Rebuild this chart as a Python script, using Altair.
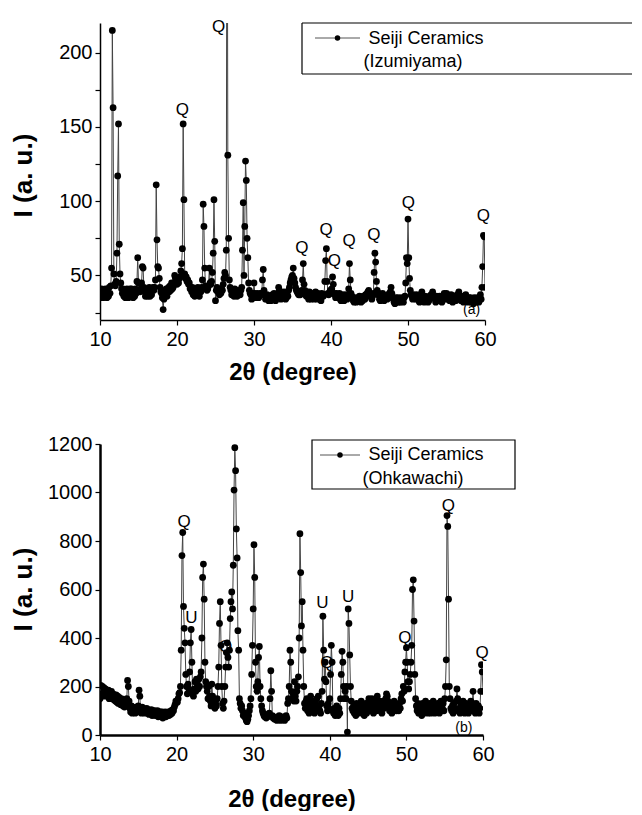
import altair as alt
import pandas as pd

# 2-theta scan: 10.0 .. 60.0 deg, step 0.1 deg
TT_START = 10.0
TT_STEP = 0.1

# (a) Seiji Ceramics (Izumiyama) intensities, one row per degree (x.0 .. x.9)
izumi_int = [
    38, 35, 41, 37, 35, 40, 36, 41, 38, 35,   # 10
    40, 36, 42, 38, 43, 55, 215, 163, 51, 44,  # 11
    43, 46, 65, 117, 152, 71, 51, 45, 41, 38,  # 12
    41, 36, 40, 35, 39, 41, 37, 35, 40, 41,   # 13
    37, 41, 36, 35, 40, 36, 41, 38, 46, 62,   # 14
    45, 40, 39, 41, 45, 56, 55, 42, 39, 36,   # 15
    39, 41, 36, 40, 42, 36, 40, 37, 41, 42,   # 16
    40, 42, 47, 111, 74, 56, 55, 48, 42, 39,  # 17
    38, 35, 27, 34, 37, 40, 41, 36, 40, 42,   # 18
    39, 43, 40, 45, 41, 42, 44, 50, 48, 45,   # 19
    44, 46, 45, 48, 49, 53, 58, 68, 152, 101,  # 20
    51, 48, 49, 46, 47, 44, 45, 41, 42, 39,   # 21
    42, 37, 41, 36, 40, 37, 41, 42, 38, 36,   # 22
    40, 39, 42, 47, 98, 83, 55, 43, 41, 40,   # 23
    41, 43, 55, 45, 44, 46, 52, 65, 101, 73,  # 24
    33, 40, 42, 39, 40, 37, 39, 38, 41, 40,   # 25
    44, 48, 52, 50, 67, 400, 131, 75, 47, 42,  # 26
    40, 37, 38, 40, 36, 41, 37, 40, 36, 39,   # 27
    37, 40, 37, 40, 42, 67, 99, 50, 83, 127,  # 28
    114, 75, 62, 45, 40, 38, 37, 34, 38, 37,  # 29
    45, 38, 35, 36, 38, 37, 35, 36, 38, 37,   # 30
    38, 47, 54, 40, 37, 34, 35, 37, 34, 33,   # 31
    36, 35, 33, 34, 37, 34, 38, 35, 33, 37,   # 32
    36, 38, 42, 40, 37, 34, 35, 37, 36, 39,   # 33
    37, 34, 35, 37, 36, 40, 42, 45, 47, 49,   # 34
    50, 55, 48, 45, 42, 40, 39, 38, 37, 38,   # 35
    37, 38, 40, 47, 58, 44, 40, 37, 36, 39,   # 36
    38, 34, 39, 36, 34, 38, 37, 35, 34, 38,   # 37
    39, 36, 34, 38, 37, 35, 34, 33, 38, 37,   # 38
    36, 37, 46, 60, 68, 46, 38, 37, 38, 40,   # 39
    38, 41, 49, 44, 38, 37, 35, 38, 37, 36,   # 40
    35, 38, 34, 33, 37, 36, 34, 33, 37, 36,   # 41
    35, 34, 37, 41, 58, 47, 38, 36, 35, 33,   # 42
    32, 35, 34, 32, 33, 35, 34, 36, 33, 32,   # 43
    35, 33, 36, 35, 34, 37, 36, 38, 39, 40,   # 44
    38, 36, 37, 34, 36, 38, 52, 65, 59, 46,   # 45
    40, 37, 38, 34, 33, 37, 36, 38, 35, 33,   # 46
    34, 36, 35, 34, 37, 36, 38, 39, 42, 38,   # 47
    35, 34, 32, 31, 35, 32, 33, 35, 32, 34,   # 48
    32, 35, 34, 33, 32, 35, 36, 45, 62, 58,   # 49
    88, 62, 48, 40, 37, 36, 34, 37, 36, 35,   # 50
    34, 37, 36, 35, 33, 32, 37, 36, 39, 35,   # 51
    34, 32, 36, 35, 34, 35, 32, 33, 36, 35,   # 52
    37, 36, 39, 36, 35, 34, 32, 36, 35, 34,   # 53
    33, 36, 35, 34, 32, 36, 35, 38, 35, 34,   # 54
    38, 37, 35, 36, 33, 34, 37, 34, 32, 36,   # 55
    35, 36, 33, 34, 37, 36, 39, 35, 34, 33,   # 56
    36, 33, 32, 35, 34, 37, 34, 33, 32, 35,   # 57
    34, 35, 32, 33, 34, 31, 35, 34, 33, 32,   # 58
    35, 34, 32, 35, 37, 34, 42, 56, 77, 76,   # 59
    42,                                       # 60
]

# (b) Seiji Ceramics (Ohkawachi) intensities
ohka_int = [
    150, 205, 165, 200, 175, 195, 160, 190, 170, 185,   # 10
    160, 185, 150, 175, 160, 180, 150, 170, 145, 165,   # 11
    140, 165, 135, 160, 130, 155, 140, 125, 150, 130,   # 12
    120, 145, 115, 140, 120, 150, 225, 200, 140, 110,   # 13
    95, 120, 90, 115, 95, 110, 90, 115, 95, 110,        # 14
    120, 185, 160, 100, 90, 115, 95, 110, 90, 105,      # 15
    95, 110, 90, 105, 85, 100, 90, 105, 80, 100,        # 16
    85, 100, 80, 95, 85, 100, 75, 95, 85, 95,           # 17
    75, 95, 70, 90, 80, 95, 75, 90, 80, 95,             # 18
    80, 95, 85, 100, 90, 105, 100, 115, 125, 140,       # 19
    140, 135, 150, 170, 175, 200, 350, 740, 835, 530,   # 20
    440, 380, 250, 200, 170, 210, 190, 260, 380, 435,   # 21
    300, 170, 160, 190, 220, 180, 230, 210, 190, 230,   # 22
    200, 240, 260, 400, 650, 705, 560, 300, 220, 200,   # 23
    180, 150, 200, 160, 140, 120, 210, 160, 120, 140,   # 24
    110, 130, 120, 150, 200, 280, 460, 550, 370, 200,   # 25
    130, 110, 140, 200, 280, 340, 380, 320, 280, 350,   # 26
    480, 550, 590, 520, 700, 1010, 1185, 1090, 850, 730,  # 27
    430, 350, 150, 130, 110, 120, 100, 80, 90, 75,      # 28
    70, 60, 55, 65, 80, 100, 120, 150, 250, 370,        # 29
    520, 785, 650, 300, 200, 180, 220, 320, 365, 200,   # 30
    150, 120, 100, 90, 80, 75, 85, 70, 80, 75,          # 31
    80, 90, 150, 265, 180, 80, 70, 75, 65, 70,          # 32
    70, 60, 75, 65, 80, 70, 60, 75, 65, 70,             # 33
    75, 60, 70, 80, 70, 130, 150, 200, 350, 300,        # 34
    180, 150, 170, 140, 220, 160, 140, 180, 200, 240,   # 35
    400, 830, 670, 450, 550, 350, 200, 130, 110, 140,   # 36
    150, 100, 130, 90, 120, 160, 100, 140, 110, 120,    # 37
    90, 130, 100, 150, 110, 160, 120, 100, 90, 130,     # 38
    180, 490, 350, 230, 300, 220, 120, 100, 130, 110,   # 39
    150, 250, 370, 300, 100, 90, 110, 80, 95, 120,      # 40
    100, 80, 110, 90, 150, 250, 345, 300, 200, 150,     # 41
    180, 150, 200, 12, 520, 460, 330, 200, 140, 110,    # 42
    100, 120, 90, 110, 80, 130, 100, 90, 120, 100,      # 43
    110, 140, 90, 120, 100, 80, 110, 130, 90, 100,      # 44
    120, 150, 100, 130, 110, 150, 120, 90, 140, 110,    # 45
    130, 100, 160, 120, 110, 140, 100, 130, 90, 120,    # 46
    140, 110, 130, 150, 170, 160, 140, 120, 100, 130,   # 47
    110, 90, 120, 100, 140, 110, 130, 100, 120, 110,    # 48
    100, 130, 110, 150, 170, 140, 200, 180, 260, 300,   # 49
    360, 300, 220, 190, 220, 250, 300, 370, 600, 640,   # 50
    470, 250, 150, 120, 100, 130, 90, 110, 120, 100,    # 51
    80, 130, 100, 90, 120, 140, 100, 110, 90, 120,      # 52
    130, 100, 90, 120, 110, 140, 100, 90, 120, 110,     # 53
    100, 130, 110, 90, 120, 140, 100, 110, 130, 100,    # 54
    150, 200, 310, 905, 860, 560, 200, 150, 110, 100,   # 55
    120, 90, 130, 100, 110, 140, 190, 150, 100, 110,    # 56
    90, 130, 100, 110, 140, 120, 90, 110, 130, 100,     # 57
    110, 90, 120, 100, 140, 110, 130, 180, 120, 100,    # 58
    90, 130, 110, 100, 120, 90, 110, 180, 290, 260,     # 59
    180,                                                # 60
]

# Peak annotations
izumi_lab_x = [25.4, 20.7, 36.2, 39.35, 40.43, 42.34, 45.58, 50.04, 59.78]
izumi_lab_y = [217.3, 161.7, 68.2, 80.3, 59.5, 72.9, 77.0, 99.0, 89.7]
izumi_lab_t = ["Q", "Q", "Q", "Q", "Q", "Q", "Q", "Q", "Q"]

ohka_lab_x = [20.97, 21.92, 26.4, 39.03, 39.6, 42.38, 49.8, 55.47, 59.9]
ohka_lab_y = [880, 481, 364, 546, 296, 568, 399, 945, 337]
ohka_lab_t = ["Q", "U", "Q", "U", "Q", "U", "Q", "Q", "Q"]

x_ticks = [10 + 2.5 * i for i in range(21)]
izumi_yticks = [25, 50, 75, 100, 125, 150, 175, 200]
ohka_yticks = [0, 100, 200, 300, 400, 500, 600, 700, 800, 900, 1000, 1100, 1200]

FONT = "Liberation Sans"


def panel(ints, ydom, yticks, ymajor, lab_x, lab_y, lab_t, tag, tag_xy, name2,
          w, h, domw, titleY_x, titleY_y, leg):
    tt = [round(TT_START + TT_STEP * i, 1) for i in range(len(ints))]
    df = pd.DataFrame({"tt": tt, "I": ints})
    xenc = alt.X(
        "tt:Q",
        scale=alt.Scale(domain=[10, 60], nice=False, zero=False),
        axis=alt.Axis(
            values=x_ticks, format="d",
            labelExpr="datum.value % 10 === 0 ? datum.label : ''",
            labelFlush=False, labelOverlap=False, grid=False,
            tickSize=5, tickWidth=1.2, tickColor="black",
            domainColor="black", domainWidth=domw,
            labelFontSize=20, labelPadding=4, labelColor="black",
            title="2θ (degree)", titleFontSize=24, titleFontWeight="bold",
            titleY=titleY_x, titleBaseline="top", titleColor="black",
        ),
    )
    yenc = alt.Y(
        "I:Q",
        scale=alt.Scale(domain=ydom, nice=False, zero=False),
        axis=alt.Axis(
            values=yticks, format="d",
            labelExpr="datum.value % " + str(ymajor) + " === 0 ? datum.label : ''",
            labelFlush=False, labelOverlap=False, grid=False,
            tickSize=5, tickWidth=1.2, tickColor="black",
            domainColor="black", domainWidth=domw,
            labelFontSize=20, labelPadding=3, labelColor="black",
            title="I (a. u.)", titleFontSize=26, titleFontWeight="bold",
            titleX=-64, titleY=titleY_y, titleColor="black",
        ),
    )
    base = alt.Chart(df)
    line = base.mark_line(color="#444444", strokeWidth=1, clip=True).encode(x=xenc, y=yenc)
    pts = base.mark_circle(size=46, color="black", opacity=1, clip=True).encode(x="tt:Q", y="I:Q")

    ldf = pd.DataFrame({"tt": lab_x, "I": lab_y, "t": lab_t})
    labs = alt.Chart(ldf).mark_text(font=FONT, fontSize=17, color="black").encode(
        x="tt:Q", y="I:Q", text="t:N")
    tdf = pd.DataFrame({"tt": [tag_xy[0]], "I": [tag_xy[1]], "t": [tag]})
    tagm = alt.Chart(tdf).mark_text(font=FONT, fontSize=14, color="black").encode(
        x="tt:Q", y="I:Q", text="t:N")

    one = pd.DataFrame({"k": [0]})
    bx1, bx2, by1, by2, lx1, lx2, ly, tx1, ty1, tx2, ty2, open_right = leg
    layers = [line, pts, labs, tagm]
    if open_right:
        layers.append(alt.Chart(one).mark_rect(fill="white").encode(
            x=alt.value(bx1), x2=alt.value(bx2), y=alt.value(by1), y2=alt.value(by2)))
        for (a, b, c, d) in [(bx1, bx2, by1, by1), (bx1, bx2, by2, by2), (bx1, bx1, by1, by2)]:
            layers.append(alt.Chart(one).mark_rule(color="black", strokeWidth=1.2).encode(
                x=alt.value(a), x2=alt.value(b), y=alt.value(c), y2=alt.value(d)))
    else:
        layers.append(alt.Chart(one).mark_rect(fill="white", stroke="black", strokeWidth=1.2).encode(
            x=alt.value(bx1), x2=alt.value(bx2), y=alt.value(by1), y2=alt.value(by2)))
    layers.append(alt.Chart(one).mark_rule(color="#555555", strokeWidth=1).encode(
        x=alt.value(lx1), x2=alt.value(lx2), y=alt.value(ly)))
    layers.append(alt.Chart(one).mark_point(filled=True, size=30, color="black", opacity=1).encode(
        x=alt.value((lx1 + lx2) / 2), y=alt.value(ly)))
    layers.append(alt.Chart(one).mark_text(font=FONT, fontSize=18, color="black").encode(
        x=alt.value(tx1), y=alt.value(ty1), text=alt.value("Seiji Ceramics")))
    layers.append(alt.Chart(one).mark_text(font=FONT, fontSize=18, color="black").encode(
        x=alt.value(tx2), y=alt.value(ty2), text=alt.value(name2)))
    return alt.layer(*layers).properties(width=w, height=h)


top = panel(izumi_int, [20, 220], izumi_yticks, 50, izumi_lab_x, izumi_lab_y, izumi_lab_t,
            "(a)", (58.27, 26.5), "(Izumiyama)", 385, 297, 1.5, 40, 152,
            (202, 532, 0, 51, 215, 260, 15, 326, 16, 313, 39, True))
bottom = panel(ohka_int, [0, 1200], ohka_yticks, 200, ohka_lab_x, ohka_lab_y, ohka_lab_t,
               "(b)", (57.5, 27), "(Ohkawachi)", 383, 291, 2.5, 52, 145,
               (212, 415, -4, 45, 220, 260, 11, 326, 11, 313, 35, False))

chart = alt.vconcat(top, bottom, spacing=50).properties(
    padding={"left": 2, "top": 10, "right": 0, "bottom": 0}
).configure_view(stroke=None).configure_axis(labelFont=FONT, titleFont=FONT)

chart.save("out.html", embed_options={"renderer": "svg", "actions": False})
